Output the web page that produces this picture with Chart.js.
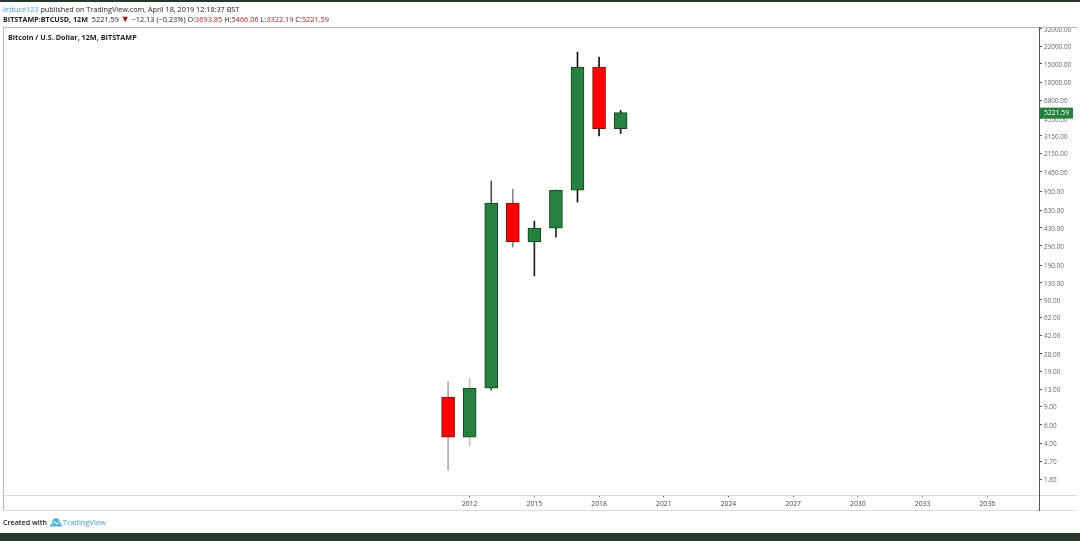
<!DOCTYPE html>
<html>
<head>
<meta charset="utf-8">
<script src="https://cdn.jsdelivr.net/npm/chart.js@4/dist/chart.umd.min.js"></script>
<style>
  html, body { margin: 0; padding: 0; background: #fff; overflow: hidden; }
  #wrap { position: relative; width: 1080px; height: 541px; font-family: "Open Sans", sans-serif; }
  canvas { position: absolute; left: 0; top: 0; }
  .band { position: absolute; left: 0; width: 1080px; background: #26392c; }
  .txt { position: absolute; white-space: nowrap; line-height: 10px; color: #222; }
  .red { color: #a5282c; }
  .blue { color: #3d9ccf; }
</style>
</head>
<body>
<div id="wrap">
  <canvas id="chart" width="1080" height="541"></canvas>
  <div class="band" style="top:0;height:2px"></div>
  <div class="band" style="top:533px;height:8px"></div>
  <div class="txt" style="left:3px;top:4px;font-size:7.25px"><span class="blue">lettuce123</span> published on TradingView.com, April 18, 2019 12:18:37 BST</div>
  <div class="txt" style="left:3px;top:14px;font-size:7.2px"><b>BITSTAMP:BTCUSD, 12M</b>&nbsp; <span style="font-size:7.35px">5221.59 <span style="color:#8e1a1e;font-size:9px;line-height:8px">▼</span> −12.13 (−0.23%) O:<span class="red">3693.85</span> H:<span class="red">5466.06</span> L:<span class="red">3322.19</span> C:<span class="red">5221.59</span></span></div>
  <div class="txt" style="left:8px;top:32px;font-size:7.25px;font-weight:700">Bitcoin / U.S. Dollar, 12M, BITSTAMP</div>
  <div class="txt" style="left:3px;top:517px;font-size:7.1px;font-weight:600">Created with</div>
  <svg style="position:absolute;left:49px;top:517px" width="14" height="10" viewBox="0 0 14 10">
    <path d="M0.5 9.5 L3 4.5 Q4 1 7 1 Q10 1 11 4.5 L13.5 9.5 Z" fill="#5bb3dc"/>
    <path d="M1.5 8 L5 4.5 L8 7 L11.5 3.5" fill="none" stroke="#fff" stroke-width="1"/>
  </svg>
  <div class="txt blue" style="left:63px;top:517px;font-size:7.5px">TradingView</div>
</div>
<script>
const years = [2011, 2012, 2013, 2014, 2015, 2016, 2017, 2018, 2019];
const opens = [10.96, 4.6, 13.3, 734, 316, 427, 973, 14014, 3693.85];
const closes = [4.6, 13.3, 734, 316, 427, 973, 14014, 3693.85, 5221.59];
const highs = [15.2, 16.5, 1184, 995, 497, 973, 19400, 17400, 5466.06];
const lows = [2.25, 3.79, 12.7, 283, 151, 351, 750, 3141, 3322.19];
const wickColors = ['#aaaaaa', '#c4c4c4', '#555555', '#888888', '#222222', '#222222', '#111111', '#111111', '#111111'];
const yTicks = [32000, 22000, 15000, 10000, 6800, 4550, 3150, 2150, 1450, 950, 630, 430, 290, 190, 130, 90, 62, 42, 28, 19, 13, 9, 6, 4, 2.7, 1.85];
const xTicks = [2012, 2015, 2018, 2021, 2024, 2027, 2030, 2033, 2036];
const lastPrice = 5221.59;

const UP = '#26803f';
const DOWN = '#ff0000';
const isUp = closes.map((c, i) => c >= opens[i]);

// frame lines and last price tag
const framePlugin = {
    id: 'frame',
    afterDraw(chart) {
        const c = chart.ctx;
        const a = chart.chartArea;
        const y = chart.scales.y;
        c.save();
        // 32000 label is cut by the top line
        c.fillStyle = '#fff';
        c.fillRect(0, 0, 1080, 27);
        c.fillStyle = '#b5b5b5';
        c.fillRect(3, 27, 1074, 1);
        c.fillRect(3, 27, 1, 484);
        c.fillStyle = '#dcdcdc';
        c.fillRect(3, 495, 1074, 1);
        c.fillRect(3, 510, 1074, 1);
        c.fillStyle = '#555';
        c.fillRect(a.right, 27, 1, 484);
        const py = y.getPixelForValue(lastPrice);
        c.fillStyle = UP;
        c.fillRect(a.right + 1, py - 5, 33, 11);
        c.fillStyle = '#fff';
        c.font = '6.8px "Open Sans"';
        c.textBaseline = 'middle';
        c.fillText(lastPrice.toFixed(2), a.right + 5, py + 0.5);
        c.restore();
    }
};

new Chart(document.getElementById('chart'), {
    type: 'bar',
    data: {
        datasets: [
            {
                data: years.map((yr, i) => ({ x: yr, y: [lows[i], highs[i]] })),
                backgroundColor: wickColors,
                barThickness: 1,
                order: 2
            },
            {
                data: years.map((yr, i) => ({ x: yr, y: [opens[i], closes[i]] })),
                backgroundColor: isUp.map(u => u ? UP : DOWN),
                borderColor: isUp.map(u => u ? '#16401f' : '#7a1010'),
                borderWidth: 1,
                borderSkipped: false,
                barThickness: 13,
                order: 1
            }
        ]
    },
    options: {
        responsive: false,
        animation: false,
        devicePixelRatio: 1,
        layout: { padding: { left: 3, top: 27, right: 0, bottom: 30 } },
        plugins: { legend: { display: false }, tooltip: { enabled: false } },
        datasets: { bar: { grouped: false } },
        scales: {
            x: {
                type: 'linear',
                offset: false,
                min: 1990.36,
                max: 2038.4,
                afterBuildTicks: s => { s.ticks = xTicks.map(v => ({ value: v })); },
                afterFit: s => { s.height = 16; },
                grid: { offset: false, drawOnChartArea: false, tickLength: 2, color: '#555' },
                border: { display: false },
                ticks: {
                    autoSkip: false,
                    maxRotation: 0,
                    padding: 3,
                    color: '#444',
                    font: { family: 'Open Sans', size: 6.8 },
                    callback: v => String(v)
                }
            },
            y: {
                type: 'logarithmic',
                position: 'right',
                min: 1.31,
                max: 33400,
                afterBuildTicks: s => { s.ticks = yTicks.map(v => ({ value: v })); },
                afterFit: s => { s.width = 41; },
                grid: { drawOnChartArea: false, tickLength: 3, color: '#555' },
                border: { display: false },
                ticks: {
                    autoSkip: false,
                    crossAlign: 'near',
                    padding: 2,
                    labelOffset: 1,
                    color: '#666',
                    font: { family: 'Open Sans', size: 6.4 },
                    callback: v => Number(v).toFixed(2)
                }
            }
        }
    },
    plugins: [framePlugin]
});
</script>
</body>
</html>
